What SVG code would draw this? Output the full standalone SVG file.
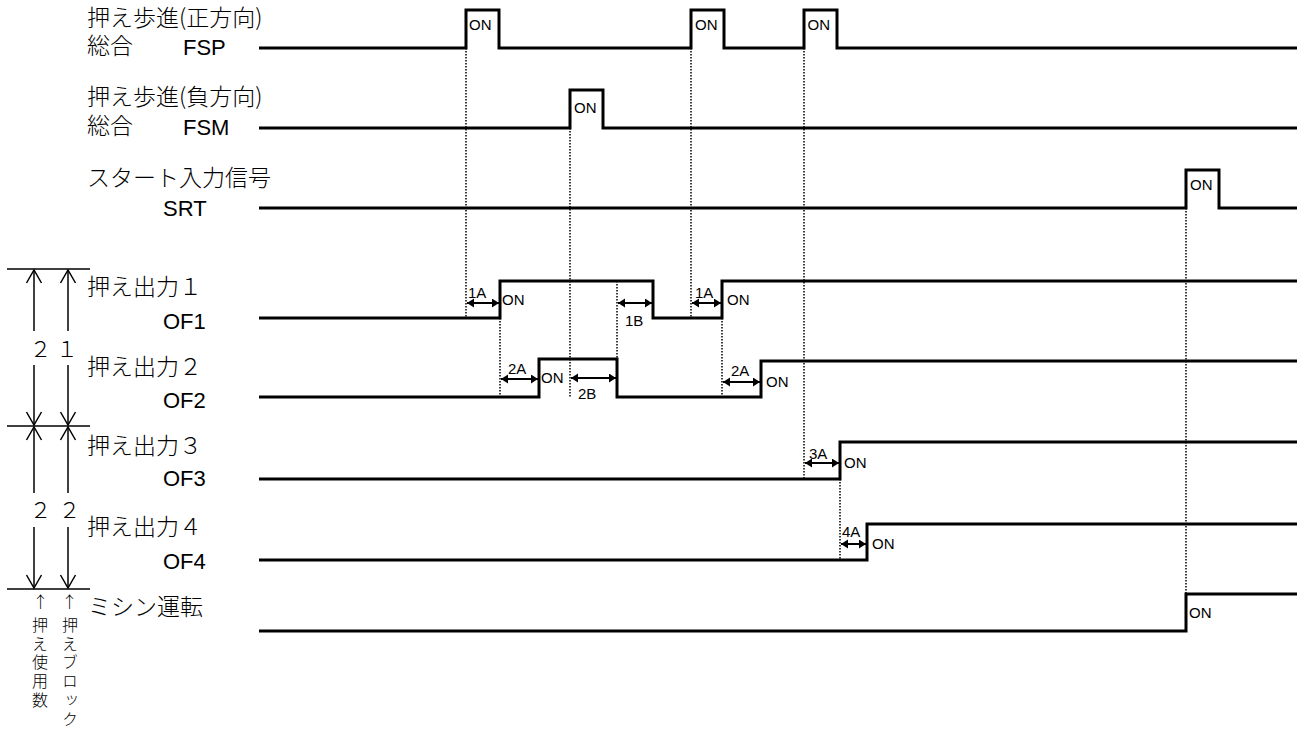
<svg xmlns="http://www.w3.org/2000/svg" width="1303" height="744" viewBox="0 0 1303 744">
<style>
.jp{font-family:"Noto Sans CJK JP","Liberation Sans",sans-serif;font-size:23px;font-weight:300;fill:#000}
.lat{font-family:"Liberation Sans",Arial,sans-serif;font-size:22px;font-weight:400;fill:#000}
.sm{font-family:"Liberation Sans",Arial,sans-serif;font-size:15px;fill:#000}
.vt{font-family:"Noto Sans CJK JP","Liberation Sans",sans-serif;font-size:16px;font-weight:300;fill:#000;writing-mode:vertical-rl;text-orientation:upright;letter-spacing:2.7px}
.ar{font-family:"Noto Sans CJK JP","Liberation Sans",sans-serif;font-size:16px;font-weight:300;fill:#000;text-anchor:middle}
.dg{font-family:"Noto Sans CJK JP","Liberation Sans",sans-serif;font-size:22px;font-weight:300;fill:#000;text-anchor:middle}
.wave{fill:none;stroke:#000;stroke-width:3;stroke-linejoin:miter;stroke-linecap:butt}
.dot{fill:none;stroke:#000;stroke-width:1.5;stroke-dasharray:1.5 1.5}
.dim{fill:none;stroke:#000;stroke-width:2;marker-start:url(#fa);marker-end:url(#fa)}
.br{fill:none;stroke:#000;stroke-width:1.5}
.bra{fill:none;stroke:#000;stroke-width:1.5;marker-end:url(#va)}
</style>
<defs>
<marker id="fa" markerUnits="userSpaceOnUse" markerWidth="8" markerHeight="10" refX="7" refY="4.5" orient="auto-start-reverse">
<path d="M0,0 L7,4.5 L0,9 z" fill="#000"/>
</marker>
<marker id="va" markerUnits="userSpaceOnUse" markerWidth="16" markerHeight="18" refX="13" refY="7.5" orient="auto" overflow="visible">
<path d="M0,0 L13,7.5 L0,15" fill="none" stroke="#000" stroke-width="1.5"/>
</marker>
</defs>

<g id="sig-fsp">
<text class="jp"><tspan x="87" y="25.5">押え歩進(正方向)</tspan><tspan x="87" y="54">総合</tspan><tspan class="lat" x="183" y="55">FSP</tspan></text>
<path class="wave" d="M259,48 H466 V10 H499 V48 H691 V10 H724 V48 H804 V10 H837 V48 H1297"/>
<text class="sm" x="469" y="29.5">ON</text>
<text class="sm" x="695" y="29.5">ON</text>
<text class="sm" x="807.5" y="29.5">ON</text>
</g>

<g id="sig-fsm">
<text class="jp"><tspan x="87" y="105">押え歩進(負方向)</tspan><tspan x="87" y="134">総合</tspan><tspan class="lat" x="183" y="135">FSM</tspan></text>
<path class="wave" d="M259,128 H570 V90 H603 V128 H1297"/>
<text class="sm" x="574" y="113">ON</text>
</g>

<g id="sig-srt">
<text class="jp" x="87" y="185.5">スタート入力信号</text>
<text class="lat" x="163" y="215.5">SRT</text>
<path class="wave" d="M259,208 H1186 V170 H1219 V208 H1297"/>
<text class="sm" x="1190" y="190">ON</text>
</g>

<g id="sig-of1">
<text class="jp" x="87" y="295">押え出力１</text>
<text class="lat" x="163" y="329">OF1</text>
<path class="wave" d="M259,318 H500 V281 H653 V318 H722 V281 H1297"/>
<text class="sm" x="502" y="305">ON</text>
<text class="sm" x="727" y="305">ON</text>
</g>

<g id="sig-of2">
<text class="jp" x="87" y="374.5">押え出力２</text>
<text class="lat" x="163" y="408">OF2</text>
<path class="wave" d="M259,397 H539 V359 H617 V397 H761 V361 H1297"/>
<text class="sm" x="541" y="383">ON</text>
<text class="sm" x="766" y="387">ON</text>
</g>

<g id="sig-of3">
<text class="jp" x="87" y="453.5">押え出力３</text>
<text class="lat" x="163" y="486">OF3</text>
<path class="wave" d="M259,479 H840 V442 H1297"/>
<text class="sm" x="844" y="468">ON</text>
</g>

<g id="sig-of4">
<text class="jp" x="87" y="535">押え出力４</text>
<text class="lat" x="163" y="569">OF4</text>
<path class="wave" d="M259,560 H867 V524 H1297"/>
<text class="sm" x="872" y="549">ON</text>
</g>

<g id="sig-mishin">
<text class="jp" x="88" y="615">ミシン運転</text>
<path class="wave" d="M259,631 H1186 V594 H1297"/>
<text class="sm" x="1189" y="618">ON</text>
</g>

<g id="bracket">
<line class="br" x1="7" y1="269" x2="90" y2="269"/>
<line class="br" x1="7" y1="426" x2="90" y2="426"/>
<line class="br" x1="7" y1="589" x2="90" y2="589"/>
<line class="bra" x1="34" y1="331" x2="34" y2="270"/>
<line class="bra" x1="34" y1="365" x2="34" y2="425"/>
<line class="bra" x1="68" y1="331" x2="68" y2="270"/>
<line class="bra" x1="68" y1="365" x2="68" y2="425"/>
<line class="bra" x1="34" y1="493" x2="34" y2="427"/>
<line class="bra" x1="34" y1="527" x2="34" y2="588"/>
<line class="bra" x1="68" y1="493" x2="68" y2="427"/>
<line class="bra" x1="68" y1="527" x2="68" y2="588"/>
<text class="dg" x="40.5" y="357">２</text>
<text class="dg" x="67" y="357">１</text>
<text class="dg" x="40.5" y="518">２</text>
<text class="dg" x="69.5" y="518">２</text>
<text class="ar" x="40.5" y="608">↑</text>
<text class="ar" x="69.5" y="608">↑</text>
<text class="vt" x="40" y="617">押え使用数</text>
<text class="vt" x="70" y="617">押えブロック</text>
</g>

<g id="connectors">
<line class="dot" x1="466" y1="48" x2="466" y2="318"/>
<line class="dot" x1="500" y1="318" x2="500" y2="397"/>
<line class="dot" x1="570" y1="128" x2="570" y2="397"/>
<line class="dot" x1="617" y1="281" x2="617" y2="359"/>
<line class="dot" x1="691" y1="48" x2="691" y2="318"/>
<line class="dot" x1="722" y1="318" x2="722" y2="397"/>
<line class="dot" x1="804" y1="48" x2="804" y2="479"/>
<line class="dot" x1="840" y1="479" x2="840" y2="560"/>
<line class="dot" x1="1186" y1="208" x2="1186" y2="594"/>
<line class="dim" x1="467" y1="303" x2="499" y2="303"/>
<line class="dim" x1="618" y1="303" x2="652" y2="303"/>
<line class="dim" x1="692" y1="303" x2="721" y2="303"/>
<line class="dim" x1="501" y1="379" x2="538" y2="379"/>
<line class="dim" x1="571" y1="378" x2="616" y2="378"/>
<line class="dim" x1="723" y1="382" x2="760" y2="382"/>
<line class="dim" x1="805" y1="463" x2="839" y2="463"/>
<line class="dim" x1="841" y1="544" x2="866" y2="544"/>
<text class="sm" x="468" y="298">1A</text>
<text class="sm" x="625" y="326">1B</text>
<text class="sm" x="695" y="298">1A</text>
<text class="sm" x="508" y="374">2A</text>
<text class="sm" x="578" y="399">2B</text>
<text class="sm" x="731" y="376">2A</text>
<text class="sm" x="809" y="459">3A</text>
<text class="sm" x="842" y="537">4A</text>
</g>
</svg>
